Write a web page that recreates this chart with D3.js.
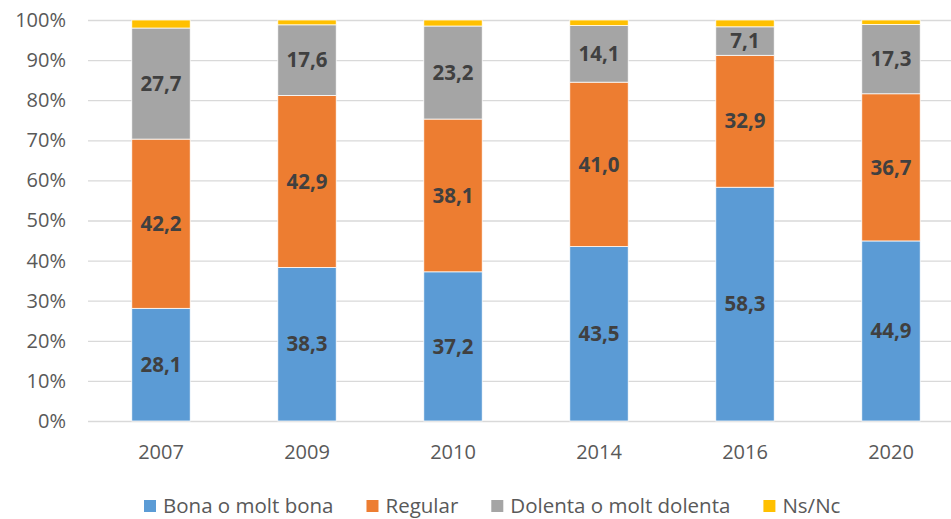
<!DOCTYPE html>
<html><head><meta charset="utf-8">
<script src="https://cdn.jsdelivr.net/npm/d3@7"></script>
<style>body{margin:0;background:#fff}text{font-family:"Open Sans",sans-serif}</style>
</head><body><svg id="c" width="951" height="519"></svg>
<script>
const years = ["2007","2009","2010","2014","2016","2020"];
const seriesNames = ["Bona o molt bona","Regular","Dolenta o molt dolenta","Ns/Nc"];
const bona = [28.1,38.3,37.2,43.5,58.3,44.9];
const regular = [42.2,42.9,38.1,41.0,32.9,36.7];
const dolenta = [27.7,17.6,23.2,14.1,7.1,17.3];
const nsnc = [2.0,1.2,1.5,1.4,1.7,1.1];
const colors = ["#5b9bd5","#ed7d31","#a5a5a5","#ffc000"];
const yTicks = [0,10,20,30,40,50,60,70,80,90,100];

const rows = years.map((y,i)=>({year:y, s0:bona[i], s1:regular[i], s2:dolenta[i], s3:nsnc[i]}));
const stack = d3.stack().keys(["s0","s1","s2","s3"])(rows);

const svg = d3.select("#c");
const x = d3.scaleBand().domain(years).range([88,964]).paddingInner(0.6).paddingOuter(0.3);
const y = d3.scaleLinear().domain([0,100]).range([421,20]);

// gridlines
svg.append("g").selectAll("line").data(yTicks).join("line")
  .attr("x1",88).attr("x2",951).attr("y1",d=>y(d)+0.5).attr("y2",d=>y(d)+0.5)
  .attr("stroke","#d9d9d9").attr("stroke-width",1.3);

// y axis labels
const yAxis = d3.axisLeft(y).tickValues(yTicks).tickFormat(d=>d+"%").tickSize(0).tickPadding(0);
const ya = svg.append("g").attr("transform","translate(66,0)").call(yAxis);
ya.select(".domain").remove();
ya.selectAll("text").attr("font-size",20).attr("fill","#595959").attr("font-family","'Open Sans',sans-serif");

// x axis labels
const xAxis = d3.axisBottom(x).tickSize(0).tickPadding(0);
const xa = svg.append("g").attr("transform","translate(0,445)").call(xAxis);
xa.select(".domain").remove();
xa.selectAll("text").attr("font-size",20).attr("fill","#595959").attr("font-family","'Open Sans',sans-serif");

// bars
const g = svg.append("g");
stack.forEach((layer,k)=>{
  g.append("g").selectAll("rect").data(layer).join("rect")
    .attr("x",d=>x(d.data.year))
    .attr("width",x.bandwidth())
    .attr("y",d=>y(d[1]))
    .attr("height",d=>y(d[0])-y(d[1]))
    .attr("fill",colors[k])
    .attr("stroke","#fff").attr("stroke-width",0.75);
});
// labels for first three series
stack.slice(0,3).forEach((layer,k)=>{
  g.append("g").selectAll("text").data(layer).join("text")
    .attr("x",d=>x(d.data.year)+x.bandwidth()/2)
    .attr("y",d=>(y(d[0])+y(d[1]))/2)
    .attr("dy","0.35em")
    .attr("text-anchor","middle")
    .attr("font-size",20.5).attr("font-weight","bold").attr("fill","#404040")
    .text(d=>d3.format(".1f")(d[1]-d[0]).replace(".",","));
});

// legend
const leg = svg.append("g").attr("transform","translate(0,506)");
const items = leg.selectAll("g").data(seriesNames).join("g");
items.append("rect").attr("width",12).attr("height",12).attr("y",-6).attr("fill",(d,i)=>colors[i]);
items.append("text").attr("x",19).attr("dy","0.35em").attr("font-size",20.5).attr("fill","#595959").text(d=>d);
let cx = 0; const offs=[];
items.each(function(d,i){ const w = 19 + d3.select(this).select("text").node().getComputedTextLength(); offs.push(cx); cx += w + 33; });
const start = 144;
items.attr("transform",(d,i)=>`translate(${start+offs[i]},0)`);
</script></body></html>
